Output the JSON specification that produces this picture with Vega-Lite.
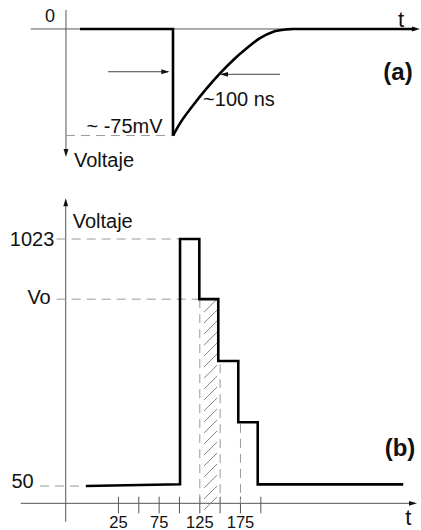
{
  "$schema": "https://vega.github.io/schema/vega-lite/v6.json",
  "padding": 0,
  "spacing": 0,
  "bounds": "flush",
  "background": "white",
  "config": {"view": {"stroke": null}},
  "datasets": {
    "a_axes": [
      {"t": -302.8, "v": 0, "t2": 515, "v2": 0},
      {"t": -227.7, "v": 13.4, "t2": -227.7, "v2": -86}
    ],
    "a_guides": [
      {"t": -227.7, "v": -75, "t2": 4.3, "v2": -75}
    ],
    "a_arrows": [
      {"t": -138.3, "v": -30.1, "t2": -10, "v2": -30.1},
      {"t": 227.7, "v": -31.9, "t2": 102, "v2": -31.9}
    ],
    "a_heads": [
      {"t": -7.9, "v": -30.1, "dir": "right"},
      {"t": 100, "v": -31.9, "dir": "left"},
      {"t": 525.5, "v": 0, "dir": "right"},
      {"t": -227.7, "v": -90.1, "dir": "down"}
    ],
    "a_step": [
      {"i": 0, "t": -197.9, "v": 0},
      {"i": 1, "t": 0, "v": 0},
      {"i": 2, "t": 0, "v": -75}
    ],
    "a_curve": [
      {"t": 0, "v": -75},
      {"t": 14.9, "v": -66.4},
      {"t": 43.2, "v": -53.5},
      {"t": 71.7, "v": -41.8},
      {"t": 100, "v": -31.2},
      {"t": 128.3, "v": -21.8},
      {"t": 156.8, "v": -13.6},
      {"t": 185.1, "v": -6.5},
      {"t": 213.4, "v": -1.9},
      {"t": 241.9, "v": -0.3},
      {"t": 256, "v": 0},
      {"t": 514.9, "v": 0}
    ],
    "a_text": [
      {"t": -103.2, "v": -69.0, "label": "~ -75mV", "size": 20},
      {"t": 140.4, "v": -50.0, "label": "~100 ns", "size": 20},
      {"t": -146.8, "v": -93.0, "label": "Voltaje", "size": 20},
      {"t": -261.7, "v": 8.5, "label": "0", "size": 18},
      {"t": 485.1, "v": 6.3, "label": "t", "size": 22}
    ],
    "b_axes": [
      {"t": -39.8, "v": 1175, "t2": -39.8, "v2": -90.6},
      {"t": -95.1, "v": -18.1, "t2": 386, "v2": -18.1}
    ],
    "b_heads": [
      {"t": -39.8, "v": 1183.3, "dir": "up"},
      {"t": 392, "v": -18.1, "dir": "right"}
    ],
    "b_ticks": [
      {"t": 25, "v": -57.5, "t2": 25, "v2": 8},
      {"t": 50, "v": -57.5, "t2": 50, "v2": 8},
      {"t": 75, "v": -57.5, "t2": 75, "v2": 8},
      {"t": 100, "v": -57.5, "t2": 100, "v2": 8},
      {"t": 125, "v": -57.5, "t2": 125, "v2": 8},
      {"t": 150, "v": -57.5, "t2": 150, "v2": 8},
      {"t": 175, "v": -57.5, "t2": 175, "v2": 8},
      {"t": 200, "v": -57.5, "t2": 200, "v2": 8}
    ],
    "b_dashes": [
      {"t": -50.9, "v": 1023, "t2": 100.7, "v2": 1023},
      {"t": -50.9, "v": 786, "t2": 124.4, "v2": 786},
      {"t": -71.4, "v": 50, "t2": -14.9, "v2": 50},
      {"t": 125, "v": 786, "t2": 125, "v2": -18.1},
      {"t": 150, "v": 530, "t2": 150, "v2": -18.1},
      {"t": 175, "v": 295, "t2": 175, "v2": -18.1}
    ],
    "b_hatch": [
      {"t": 130.2, "v": 735, "t2": 146.2, "v2": 786},
      {"t": 130.2, "v": 692, "t2": 146.2, "v2": 743},
      {"t": 130.2, "v": 649, "t2": 146.2, "v2": 700},
      {"t": 130.2, "v": 605, "t2": 146.2, "v2": 656},
      {"t": 130.2, "v": 562, "t2": 146.2, "v2": 613},
      {"t": 130.2, "v": 519, "t2": 146.2, "v2": 570},
      {"t": 130.2, "v": 475, "t2": 146.2, "v2": 526},
      {"t": 130.2, "v": 432, "t2": 146.2, "v2": 483},
      {"t": 130.2, "v": 389, "t2": 146.2, "v2": 440},
      {"t": 130.2, "v": 346, "t2": 146.2, "v2": 397},
      {"t": 130.2, "v": 302, "t2": 146.2, "v2": 353},
      {"t": 130.2, "v": 259, "t2": 146.2, "v2": 310},
      {"t": 130.2, "v": 216, "t2": 146.2, "v2": 267},
      {"t": 130.2, "v": 172, "t2": 146.2, "v2": 223},
      {"t": 130.2, "v": 129, "t2": 146.2, "v2": 180},
      {"t": 130.2, "v": 86, "t2": 146.2, "v2": 137},
      {"t": 130.2, "v": 42, "t2": 146.2, "v2": 93},
      {"t": 130.2, "v": -1, "t2": 146.2, "v2": 50},
      {"t": 130.2, "v": -44, "t2": 146.2, "v2": 7}
    ],
    "b_signal": [
      {"i": 0, "t": -14.9, "v": 50},
      {"i": 1, "t": 100.7, "v": 56.7},
      {"i": 2, "t": 100.7, "v": 1023},
      {"i": 3, "t": 124.4, "v": 1023},
      {"i": 4, "t": 124.4, "v": 786},
      {"i": 5, "t": 147.7, "v": 786},
      {"i": 6, "t": 147.7, "v": 542.4},
      {"i": 7, "t": 172.3, "v": 542.4},
      {"i": 8, "t": 172.3, "v": 301},
      {"i": 9, "t": 196.2, "v": 301},
      {"i": 10, "t": 196.2, "v": 56.7},
      {"i": 11, "t": 375.1, "v": 56.7}
    ],
    "b_text": [
      {"t": 5.65, "v": 1091, "label": "Voltaje", "size": 20},
      {"t": -81.2, "v": 1019, "label": "1023", "size": 20},
      {"t": -72.6, "v": 789, "label": "Vo", "size": 20},
      {"t": -92.9, "v": 64.6, "label": "50", "size": 20},
      {"t": 25, "v": -94.5, "label": "25", "size": 16.5},
      {"t": 75, "v": -94.5, "label": "75", "size": 16.5},
      {"t": 125, "v": -94.5, "label": "125", "size": 16.5},
      {"t": 175, "v": -94.5, "label": "175", "size": 16.5},
      {"t": 381.3, "v": -74, "label": "t", "size": 22}
    ]
  },
  "vconcat": [
    {
      "width": 421,
      "height": 180,
      "encoding": {
        "x": {"field": "t", "type": "quantitative", "scale": {"domain": [-368.1, 527.7], "nice": false, "zero": false}, "axis": null},
        "y": {"field": "v", "type": "quantitative", "scale": {"domain": [-106.3, 20.4], "nice": false, "zero": false}, "axis": null}
      },
      "layer": [
        {
          "data": {"name": "a_axes"},
          "mark": {"type": "rule", "color": "#555", "strokeWidth": 1},
          "encoding": {"x2": {"field": "t2"}, "y2": {"field": "v2"}}
        },
        {
          "data": {"name": "a_guides"},
          "mark": {"type": "rule", "color": "#999", "strokeWidth": 1, "strokeDash": [9, 6]},
          "encoding": {"x2": {"field": "t2"}, "y2": {"field": "v2"}}
        },
        {
          "data": {"name": "a_arrows"},
          "mark": {"type": "rule", "color": "#444", "strokeWidth": 1},
          "encoding": {"x2": {"field": "t2"}, "y2": {"field": "v2"}}
        },
        {
          "data": {"name": "a_heads"},
          "mark": {"type": "point", "filled": true, "color": "#111", "opacity": 1, "size": 64, "strokeWidth": 0},
          "encoding": {
            "shape": {"field": "dir", "type": "nominal", "legend": null,
              "scale": {"domain": ["right", "left", "down", "up"],
                        "range": ["M0,0L-2,-0.6L-2,0.6Z", "M0,0L2,-0.6L2,0.6Z", "M0,0L-0.6,-2L0.6,-2Z", "M0,0L-0.6,2L0.6,2Z"]}}
          }
        },
        {
          "data": {"name": "a_step"},
          "mark": {"type": "line", "color": "#000", "strokeWidth": 2.6, "strokeJoin": "miter"},
          "encoding": {"order": {"field": "i", "type": "quantitative"}}
        },
        {
          "data": {"name": "a_curve"},
          "mark": {"type": "line", "color": "#000", "strokeWidth": 2.6, "interpolate": "monotone"},
          "encoding": {}
        },
        {
          "data": {"name": "a_text"},
          "mark": {"type": "text", "font": "Liberation Sans", "color": "#111", "align": "center", "baseline": "middle"},
          "encoding": {"text": {"field": "label"}, "size": {"field": "size", "type": "quantitative", "scale": null}}
        },
        {
          "data": {"values": [{"t": 478.7, "v": -31.0, "label": "(a)"}]},
          "mark": {"type": "text", "font": "Liberation Sans", "fontWeight": "bold", "fontSize": 24, "color": "#111", "align": "center", "baseline": "middle"},
          "encoding": {"text": {"field": "label"}}
        }
      ]
    },
    {
      "width": 421,
      "height": 350,
      "encoding": {
        "x": {"field": "t", "type": "quantitative", "scale": {"domain": [-120.6, 396.9], "nice": false, "zero": false}, "axis": null},
        "y": {"field": "v", "type": "quantitative", "scale": {"domain": [-123.2, 1255.4], "nice": false, "zero": false}, "axis": null}
      },
      "layer": [
        {
          "data": {"name": "b_axes"},
          "mark": {"type": "rule", "color": "#555", "strokeWidth": 1},
          "encoding": {"x2": {"field": "t2"}, "y2": {"field": "v2"}}
        },
        {
          "data": {"name": "b_ticks"},
          "mark": {"type": "rule", "color": "#555", "strokeWidth": 1},
          "encoding": {"x2": {"field": "t2"}, "y2": {"field": "v2"}}
        },
        {
          "data": {"name": "b_dashes"},
          "mark": {"type": "rule", "color": "#999", "strokeWidth": 1, "strokeDash": [9, 6]},
          "encoding": {"x2": {"field": "t2"}, "y2": {"field": "v2"}}
        },
        {
          "data": {"name": "b_hatch"},
          "mark": {"type": "rule", "color": "#777", "strokeWidth": 0.9},
          "encoding": {"x2": {"field": "t2"}, "y2": {"field": "v2"}}
        },
        {
          "data": {"name": "b_heads"},
          "mark": {"type": "point", "filled": true, "color": "#111", "opacity": 1, "size": 64, "strokeWidth": 0},
          "encoding": {
            "shape": {"field": "dir", "type": "nominal", "legend": null,
              "scale": {"domain": ["right", "left", "down", "up"],
                        "range": ["M0,0L-2,-0.6L-2,0.6Z", "M0,0L2,-0.6L2,0.6Z", "M0,0L-0.6,-2L0.6,-2Z", "M0,0L-0.6,2L0.6,2Z"]}}
          }
        },
        {
          "data": {"name": "b_signal"},
          "mark": {"type": "line", "color": "#000", "strokeWidth": 2.6, "strokeJoin": "miter"},
          "encoding": {"order": {"field": "i", "type": "quantitative"}}
        },
        {
          "data": {"name": "b_text"},
          "mark": {"type": "text", "font": "Liberation Sans", "color": "#111", "align": "center", "baseline": "middle"},
          "encoding": {"text": {"field": "label"}, "size": {"field": "size", "type": "quantitative", "scale": null}}
        },
        {
          "data": {"values": [{"t": 371.1, "v": 194.6, "label": "(b)"}]},
          "mark": {"type": "text", "font": "Liberation Sans", "fontWeight": "bold", "fontSize": 24, "color": "#111", "align": "center", "baseline": "middle"},
          "encoding": {"text": {"field": "label"}}
        }
      ]
    }
  ]
}
